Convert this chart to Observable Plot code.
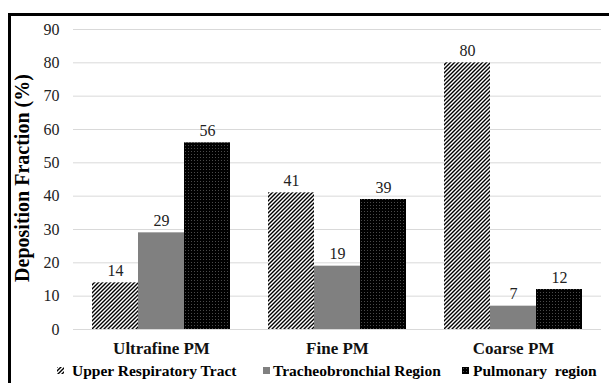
<!DOCTYPE html>
<html><head><meta charset="utf-8">
<script src="https://cdn.jsdelivr.net/npm/d3@7"></script>
<script src="https://cdn.jsdelivr.net/npm/@observablehq/plot@0.6"></script>
<style>
body{margin:0;width:609px;height:383px;overflow:hidden;background:#fff;position:relative;font-family:'Liberation Serif';}
#chart svg, #chart svg text{font-family:'Liberation Serif' !important;}
#frame{position:absolute;left:8px;top:13px;width:700px;height:500px;border-left:3px solid #000;border-top:3px solid #000;pointer-events:none;box-sizing:border-box}
#chart{position:absolute;left:0;top:0}
#ytitle{position:absolute;left:22px;top:178px;transform:translate(-50%,-50%) rotate(-90deg);font-family:'Liberation Serif';font-weight:bold;font-size:20px;white-space:nowrap;color:#000}
.leg{position:absolute;top:362px;font-family:'Liberation Serif';font-weight:bold;font-size:15.5px;white-space:pre;color:#000;line-height:18px}
.sw{position:absolute;top:367px;width:7px;height:7px}
</style>
</head><body>
<div id="chart"></div>
<div id="ytitle">Deposition Fraction (%)</div>
<div id="legend"></div>
<div id="frame"></div>
<script>
const groups = ["Ultrafine PM", "Fine PM", "Coarse PM"];
const regions = ["Upper Respiratory Tract", "Tracheobronchial Region", "Pulmonary region"];
const upperValues = [14, 41, 80];
const tracheoValues = [29, 19, 7];
const pulmonaryValues = [56, 39, 12];
const yTicks = [0, 10, 20, 30, 40, 50, 60, 70, 80, 90];
const legendLabels = ["Upper Respiratory Tract", "Tracheobronchial Region", "Pulmonary  region"];

const series = [upperValues, tracheoValues, pulmonaryValues];
const data = [];
groups.forEach((g, i) => regions.forEach((r, j) => data.push({group: g, region: r, value: series[j][i]})));

const fills = ["url(#hatch)", "#808080", "url(#dots)"];
const font = "'Liberation Serif'";

const plot = Plot.plot({
  width: 609, height: 361,
  marginTop: 29, marginBottom: 32, marginLeft: 72, marginRight: 7,
  style: {fontFamily: font, background: "transparent", color: "#000"},
  fx: {domain: groups, padding: 0, label: null},
  x: {domain: regions, paddingInner: 0, paddingOuter: 0.38, axis: null},
  y: {domain: [0, 90], label: null},
  color: {domain: regions, range: fills},
  marks: [
    Plot.gridY(yTicks, {stroke: "#d9d9d9", strokeOpacity: 1, strokeWidth: 1}),
    Plot.axisY(yTicks, {tickSize: 0, tickPadding: 14, fontSize: 16, fontFamily: font, label: null, fill: "#222"}),
    Plot.barY(data, {fx: "group", x: "region", y: "value", fill: "region"}),
    Plot.text(data, {fx: "group", x: "region", y: "value", text: d => String(d.value), dy: -12, fontSize: 16, fontFamily: font, fill: "#222"}),
    Plot.axisFx({anchor: "bottom", tickSize: 0, tickPadding: 12, fontSize: 17, fontWeight: "bold", fontFamily: font, label: null, fill: "#111"})
  ]
});

const svg = d3.select(plot);
const defs = svg.insert("defs", ":first-child");
const hatch = defs.append("pattern").attr("id", "hatch").attr("patternUnits", "userSpaceOnUse").attr("width", 4).attr("height", 4);
hatch.append("rect").attr("width", 4).attr("height", 4).attr("fill", "#fff");
hatch.append("path").attr("d", "M-1,1 l2,-2 M0,4 l4,-4 M3,5 l2,-2").attr("stroke", "#000").attr("stroke-width", 1.4);
const dots = defs.append("pattern").attr("id", "dots").attr("patternUnits", "userSpaceOnUse").attr("width", 3).attr("height", 3);
dots.append("rect").attr("width", 3).attr("height", 3).attr("fill", "#000");
dots.append("rect").attr("x", 1).attr("y", 1).attr("width", 1).attr("height", 1).attr("fill", "#4a4a4a");

document.getElementById("chart").appendChild(plot);

// legend
const legend = document.getElementById("legend");
const swX = [57, 263, 462];
const txX = [72, 273, 473];
legendLabels.forEach((lab, i) => {
  const s = document.createElementNS("http://www.w3.org/2000/svg", "svg");
  s.setAttribute("class", "sw");
  s.setAttribute("width", 7); s.setAttribute("height", 7);
  s.style.left = swX[i] + "px";
  const r = document.createElementNS("http://www.w3.org/2000/svg", "rect");
  r.setAttribute("width", 7); r.setAttribute("height", 7);
  r.setAttribute("fill", fills[i]);
  s.appendChild(r);
  legend.appendChild(s);
  const t = document.createElement("div");
  t.className = "leg";
  t.style.left = txX[i] + "px";
  t.textContent = lab;
  legend.appendChild(t);
});
</script>
</body></html>
